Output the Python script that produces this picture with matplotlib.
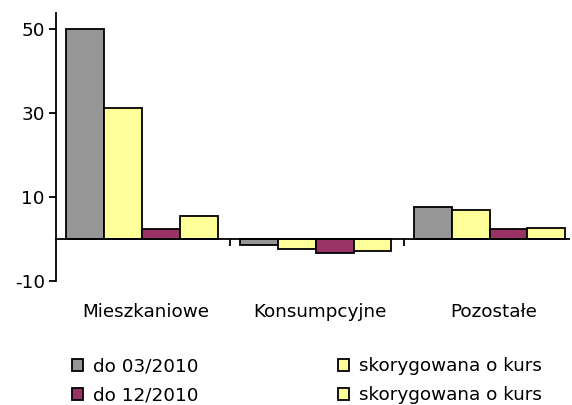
import matplotlib
matplotlib.use("Agg")
import matplotlib.pyplot as plt
import matplotlib.transforms as mtransforms
import numpy as np

categories = ["Mieszkaniowe", "Konsumpcyjne", "Pozostałe"]
series_labels = ["do 03/2010", "skorygowana o kurs", "do 12/2010", "skorygowana o kurs"]
series_colors = ["#969696", "#FFFF99", "#993366", "#FFFF99"]
values = [
    [50.0, -1.5, 7.5],   # do 03/2010
    [31.3, -2.4, 7.0],   # skorygowana o kurs
    [2.3, -3.3, 2.3],    # do 12/2010
    [5.5, -2.8, 2.7],    # skorygowana o kurs
]
yticks = [-10, 10, 30, 50]
ytick_labels = ["-10", "10", "30", "50"]

plt.rcParams["font.family"] = ["DejaVu Sans"]
FS = 13.2
fig = plt.figure(figsize=(5.72, 4.05), dpi=100)
ax = fig.add_axes([56/572, 1-281/405, (569-56)/572, (281-13)/405])

x = np.arange(len(categories))
bw = 0.218
gap = 0.057
handles = []
for i, (vals, col, lab) in enumerate(zip(values, series_colors, series_labels)):
    left = x - 0.5 + gap + i*bw
    h = ax.bar(left, vals, width=bw, align="edge", color=col, edgecolor="black",
               linewidth=1.3, label=lab, zorder=3)
    handles.append(h)

ax.set_xlim(-0.5, 2.45)
ax.set_ylim(-10, 53.8)
ax.set_yticks(yticks)
ax.set_yticklabels(ytick_labels)
ax.tick_params(axis="y", direction="out", length=5, width=1.3, labelsize=FS, pad=3)
for s in ["top", "right"]:
    ax.spines[s].set_visible(False)
ax.spines["left"].set_linewidth(1.3)
ax.spines["bottom"].set_position(("data", 0))
ax.spines["bottom"].set_linewidth(1.3)
ax.spines["bottom"].set_zorder(4)
ax.set_xticks([0.5, 1.5])
ax.set_xticklabels([])
ax.tick_params(axis="x", direction="out", length=5, width=1.3)

trans = mtransforms.blended_transform_factory(ax.transData, fig.transFigure)
for xi, c in zip(x, categories):
    ax.text(xi + 0.018, 1-312/405, c, transform=trans, ha="center", va="center", fontsize=FS)

order = [0, 2, 1, 3]
leg = fig.legend([handles[k] for k in order], [series_labels[k] for k in order],
                 ncol=2, loc="upper left", bbox_to_anchor=(63/572, 1-348/405),
                 frameon=False, fontsize=FS, handlelength=0.6, handleheight=0.6,
                 handletextpad=0.55, columnspacing=7.6, labelspacing=0.6, borderpad=0)
for p in leg.get_patches():
    p.set_linewidth(1.3)

fig.savefig("out.png", dpi=100)
